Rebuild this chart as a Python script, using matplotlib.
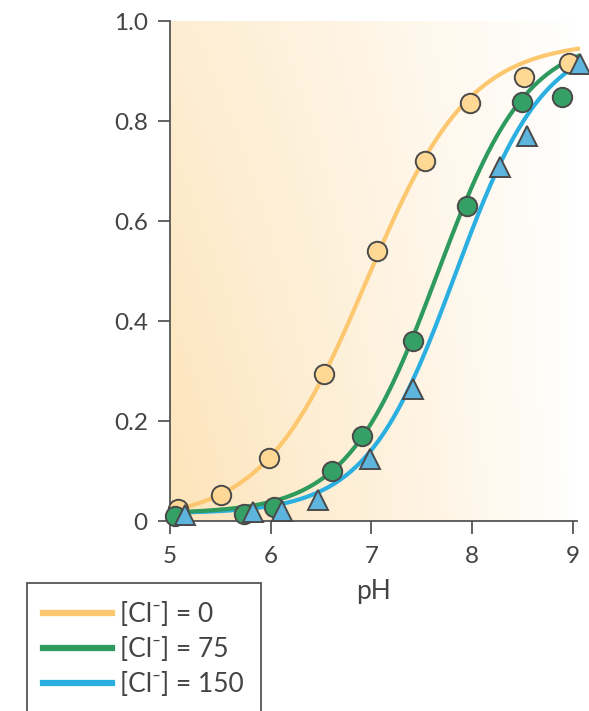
"""
Chloride dependence of pH titration curves (fraction vs pH).
"""

import numpy as np
import matplotlib
matplotlib.use("Agg")
import matplotlib.pyplot as plt
from matplotlib.lines import Line2D
from matplotlib.patches import Rectangle

# ── Data ────────────────────────────────────────────────────────────
ph_cl0 = [5.08, 5.51, 5.98, 6.53, 7.05, 7.53, 7.98, 8.51, 8.96]
fr_cl0 = [0.025, 0.052, 0.126, 0.294, 0.540, 0.720, 0.836, 0.888, 0.916]

ph_cl75 = [5.05, 5.73, 6.03, 6.61, 6.91, 7.41, 7.95, 8.49, 8.89]
fr_cl75 = [0.010, 0.014, 0.028, 0.100, 0.170, 0.360, 0.630, 0.838, 0.848]

ph_cl150 = [5.15, 5.82, 6.11, 6.47, 6.99, 7.41, 8.28, 8.54, 9.07]
fr_cl150 = [0.012, 0.018, 0.020, 0.042, 0.124, 0.264, 0.708, 0.770, 0.914]

# Hill-fit parameters for the drawn curves: bottom, top, pKa, slope
fit_cl0 = (0.0, 0.96, 6.95, 0.85)
fit_cl75 = (0.015, 0.97, 7.65, 0.97)
fit_cl150 = (0.015, 0.97, 7.83, 0.98)

labels = ["[Cl\u207b] = 0", "[Cl\u207b] = 75", "[Cl\u207b] = 150"]

# ── Styling ─────────────────────────────────────────────────────────
_TXT = "#444444"
_EDGE = "#4a4a4a"
line_colors = ["#fdc76f", "#2f9a5e", "#2aafe0"]
fill_colors = ["#fed894", "#35a065", "#5db5de"]
markers = ["o", "o", "^"]

plt.rcParams["font.family"] = ["Lato", "DejaVu Sans"]

fig = plt.figure(figsize=(5.89, 7.11), dpi=100, facecolor="white")
ax = fig.add_axes([170 / 589, 1 - 521 / 711, 407 / 589, 500 / 711])

x0, x1, y0, y1 = 5.0, 9.04, 0.0, 1.0
ax.set_xlim(x0, x1)
ax.set_ylim(y0, y1)

# soft orange wash fading to white on the right
xf, yf = np.meshgrid(np.linspace(0, 1, 300), np.linspace(0, 1, 300))
t = np.clip((1 - xf) ** 0.9 * (1 - 0.5 * yf) + 0.15 * (1 - xf) * yf, 0, 1)
orange = np.array([253, 228, 186]) / 255
img = 1 - t[..., None] * (1 - orange)
ax.imshow(img, extent=(x0, x1, y0, y1), origin="lower", aspect="auto",
          zorder=0, interpolation="bilinear")


def hill(x, params):
    b, top, pk, n = params
    return b + (top - b) / (1 + 10 ** (n * (pk - x)))


xs = np.linspace(5.0, 9.07, 300)
series = [(ph_cl0, fr_cl0, fit_cl0), (ph_cl75, fr_cl75, fit_cl75),
          (ph_cl150, fr_cl150, fit_cl150)]

# curves under markers, blue first so green/yellow sit on top
for i in (2, 1, 0):
    ax.plot(xs, hill(xs, series[i][2]), color=line_colors[i], lw=3.0,
            zorder=2, clip_on=False, solid_capstyle="butt")

for i in (0, 1, 2):
    px, py, _ = series[i]
    ms = 14 if markers[i] == "o" else 14.5
    ax.plot(px, py, ls="none", marker=markers[i], ms=ms,
            mfc=fill_colors[i], mec=_EDGE, mew=1.4, zorder=3 + i,
            clip_on=False)

for s in ("top", "right"):
    ax.spines[s].set_visible(False)
for s in ("left", "bottom"):
    ax.spines[s].set_color("#555555")
    ax.spines[s].set_linewidth(1.3)

ax.set_xticks([5, 6, 7, 8, 9])
ax.set_yticks([0, 0.2, 0.4, 0.6, 0.8, 1.0])
ax.set_yticklabels(["0", "0.2", "0.4", "0.6", "0.8", "1.0"])
ax.tick_params(direction="out", length=9, width=1.3, color="#555555",
               labelcolor=_TXT, labelsize=17.5)
ax.tick_params(axis="x", pad=9)
ax.tick_params(axis="y", pad=7)
ax.set_xlabel("pH", color=_TXT, fontsize=19, labelpad=9)

# legend in a box that runs off the bottom edge
fig.patches.append(Rectangle((27 / 589, -0.02), 234 / 589, 1 - 583 / 711 + 0.02,
                             transform=fig.transFigure, fill=False,
                             edgecolor="#555555", lw=1.3))
handles = [Line2D([], [], color=c, lw=4.5) for c in line_colors]
fig.legend(handles, labels, loc="upper left",
           bbox_to_anchor=(43 / 589, 1 - 602 / 711), frameon=False,
           fontsize=19, handlelength=2.6, handletextpad=0.3,
           labelspacing=0.38, labelcolor=_TXT, borderaxespad=0,
           borderpad=0)

fig.savefig("out.png", dpi=100, facecolor="white")
